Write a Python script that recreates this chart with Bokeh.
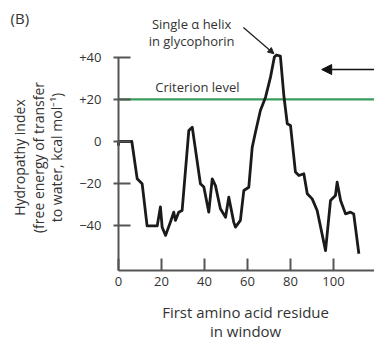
import math
from bokeh.plotting import figure
from bokeh.models import Range1d, Label, Arrow, NormalHead, FixedTicker
from bokeh.embed import file_html
from bokeh.resources import INLINE

# Data
residue = [0, 0, 6.2, 8.7, 11, 13.3, 18, 19.5, 20.3, 21.9, 24.2, 25.7, 26.5, 28, 29.6,
           32.7, 34.3, 38.1, 39.7, 42, 43.6, 45.1, 47.4, 49.8, 51.3, 53.6, 54.4, 56.7,
           58.3, 60.6, 62.2, 63.7, 66, 68.4, 70.7, 72.5, 73.5, 75.3, 76.9, 78.5, 80,
           82.3, 83.9, 86.2, 87.8, 90.1, 92.4, 96.3, 98.6, 100.9, 101.7, 103.3, 105.6,
           107.9, 109.4, 111.8]
hydropathy = [-2, 0, 0, -17.7, -20, -40, -40, -31, -40.6, -44.5, -38, -33.5, -37.4, -33.5,
              -32.7, 5.2, 6.8, -20, -21.6, -33.5, -17.7, -20.9, -31.9, -35.9, -26.4, -38.2,
              -40.6, -37.4, -23.2, -21.7, -2.7, 4.4, 14.7, 21, 30.5, 40, 41, 40.5, 21.8,
              8.4, 7.6, -14.5, -16.1, -15.3, -24.8, -27.2, -32.7, -51.7, -28, -25.6,
              -19.3, -28, -34.3, -33.5, -34.3, -53.2]
criterion = 20
x_ticks = [0, 20, 40, 60, 80, 100]
y_ticks = [-40, -20, 0, 20, 40]
y_tick_labels = {-40: "\u221240", -20: "\u221220", 0: "0", 20: "+20", 40: "+40"}

FONT = "Open Sans"
TXT = "#333333"
AX = "#555555"
XMAX = 119.07
YBASE = -61.14

p = figure(width=374, height=340, output_backend="svg", toolbar_location=None,
           x_range=Range1d(-54.88, XMAX), y_range=Range1d(-94.31, 66.82),
           min_border=0)
p.outline_line_color = None
p.grid.visible = False
p.background_fill_color = "white"

p.xaxis.fixed_location = YBASE
p.yaxis.fixed_location = 0
p.xaxis.bounds = (0, XMAX)
p.yaxis.bounds = (YBASE, 40)
p.xaxis.ticker = FixedTicker(ticks=x_ticks)
p.yaxis.ticker = FixedTicker(ticks=y_ticks)
p.yaxis.major_label_overrides = y_tick_labels
for ax in (p.xaxis, p.yaxis):
    ax.axis_line_color = AX
    ax.axis_line_width = 2
    ax.major_tick_line_color = AX
    ax.major_tick_line_width = 2
    ax.minor_tick_line_color = None
    ax.major_label_text_font = FONT
    ax.major_label_text_font_size = "13px"
    ax.major_label_text_color = TXT
p.xaxis.major_tick_in = 12
p.xaxis.major_tick_out = 0
p.xaxis.major_label_standoff = 6
p.yaxis.major_tick_in = 12
p.yaxis.major_tick_out = 5
p.yaxis.major_label_standoff = 12

# criterion level
p.line([0, XMAX], [criterion, criterion], line_color="#3a9b5c", line_width=2.2)
p.line(residue, hydropathy, line_color="#1a1a1a", line_width=2.8, line_join="round")

def txt(x, y, s, size="13px", **kw):
    p.add_layout(Label(x=x, y=y, text=s, text_font=FONT, text_font_size=size,
                       text_color=TXT, text_align="center", text_baseline="middle", **kw))

txt(36.7, 25.8, "Criterion level")
txt(34, 55.9, "Single \u03b1 helix")
txt(34, 47.4, "in glycophorin")

p.add_layout(Arrow(x_start=58.1, y_start=54, x_end=72.3, y_end=41.6,
                   line_color="#222222", line_width=1.3,
                   end=NormalHead(size=6, fill_color="#222222", line_color="#222222")))
p.add_layout(Arrow(x_start=XMAX, y_start=34.1, x_end=94.5, y_end=34.1,
                   line_color="#111111", line_width=1.5,
                   end=NormalHead(size=10, fill_color="#111111", line_color="#111111")))

# panel letter and axis titles
p.add_layout(Label(x=-50.2, y=58.3, text="(B)", text_font=FONT, text_font_size="15px",
                   text_color=TXT, text_baseline="middle"))
for xs, s in [(-46.0, "Hydropathy index"), (-37.2, "(free energy of transfer"),
              (-28.8, "to water, kcal mol\u207b\u00b9)")]:
    txt(xs, -7.6, s, size="14px", angle=math.pi / 2)
txt(59.1, -80.6, "First amino acid residue", size="15px")
txt(59.1, -89.6, "in window", size="15px")

open("out.html", "w").write(file_html(p, INLINE))
